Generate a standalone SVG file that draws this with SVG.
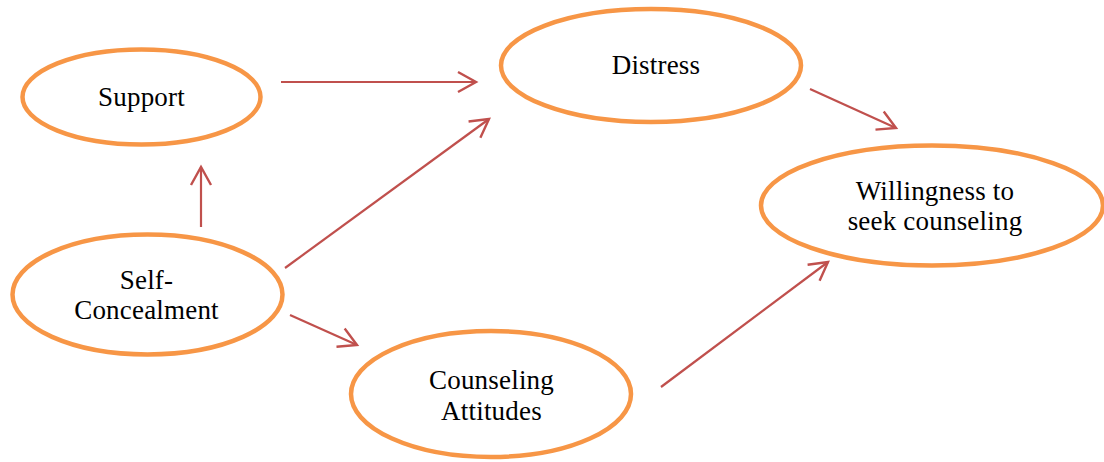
<svg xmlns="http://www.w3.org/2000/svg" width="1104" height="462" viewBox="0 0 1104 462">
  <style>
    .node ellipse { fill: #FFFFFF; stroke: #F79646; stroke-width: 4.5; }
    .node text { font-family: "Liberation Serif", "DejaVu Serif", serif; font-size: 27px; fill: #000000; text-anchor: middle; letter-spacing: 0.2px; }
    .edge { stroke: #C0504D; stroke-width: 2.2; fill: none; marker-end: url(#head); }
  </style>
  <defs>
    <marker id="head" markerUnits="userSpaceOnUse" markerWidth="30" markerHeight="30" viewBox="-22 -15 30 30" refX="0" refY="0" orient="auto" overflow="visible">
      <path d="M-18,-10 L0,0 L-18,10" fill="none" stroke="#C0504D" stroke-width="2.4" stroke-linejoin="miter"/>
    </marker>
  </defs>
  <rect width="1104" height="462" fill="#FFFFFF"/>

  <!-- connectors -->
  <g id="connectors">
    <line class="edge" x1="281" y1="82" x2="476" y2="82"/>
    <line class="edge" x1="285" y1="268" x2="489" y2="119"/>
    <line class="edge" x1="201" y1="227" x2="201" y2="167"/>
    <line class="edge" x1="290" y1="315" x2="357" y2="345"/>
    <line class="edge" x1="810" y1="89" x2="896" y2="128"/>
    <line class="edge" x1="661" y1="387" x2="828" y2="262"/>
  </g>

  <g id="support" class="node">
    <ellipse cx="141.5" cy="97" rx="119" ry="47.5"/>
    <text x="141.5" y="106">Support</text>
  </g>

  <g id="distress" class="node">
    <ellipse cx="651" cy="65.5" rx="150" ry="56.5"/>
    <text x="656" y="74">Distress</text>
  </g>

  <g id="willingness" class="node">
    <ellipse cx="932" cy="205.5" rx="171" ry="60"/>
    <text x="935" y="200">Willingness to</text>
    <text x="935" y="230">seek counseling</text>
  </g>

  <g id="self-concealment" class="node">
    <ellipse cx="147.5" cy="294.5" rx="135" ry="60"/>
    <text x="146.5" y="289">Self-</text>
    <text x="146.5" y="319">Concealment</text>
  </g>

  <g id="counseling-attitudes" class="node">
    <ellipse cx="491" cy="394" rx="140" ry="63"/>
    <text x="491.5" y="389">Counseling</text>
    <text x="491.5" y="420">Attitudes</text>
  </g>
</svg>
